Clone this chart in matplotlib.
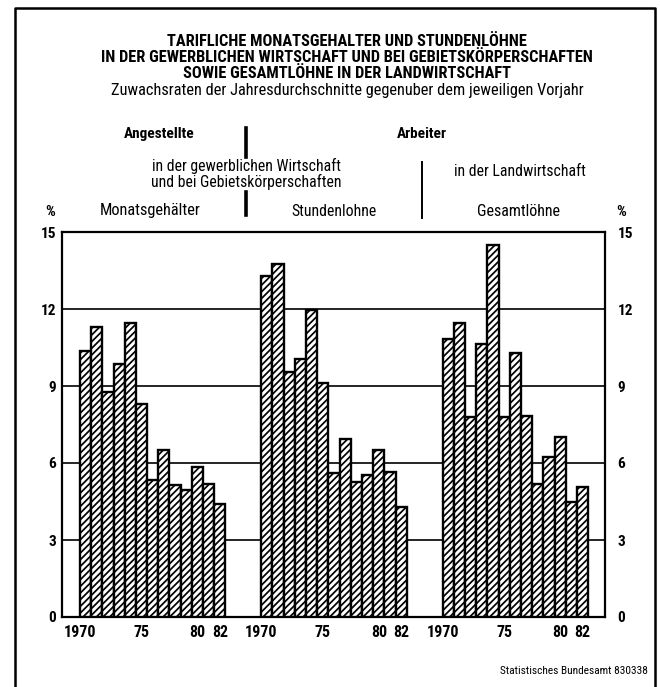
import matplotlib
matplotlib.use("Agg")
import matplotlib.pyplot as plt
from matplotlib.lines import Line2D
import numpy as np

# ---- data (growth rates, % vs previous year, 1970-1982) -------------
years = list(range(1970, 1983))
monatsgehaelter = [10.35, 11.3, 8.75, 9.85, 11.45, 8.3, 5.35, 6.5, 5.15, 4.95, 5.85, 5.2, 4.4]
stundenloehne = [13.3, 13.75, 9.55, 10.05, 11.95, 9.1, 5.6, 6.95, 5.25, 5.55, 6.5, 5.65, 4.3]
gesamtloehne = [10.85, 11.45, 7.8, 10.65, 14.5, 7.8, 10.3, 7.85, 5.2, 6.25, 7.0, 4.5, 5.05]
tick_years = [1970, 1975, 1980, 1982]
tick_text = ["1970", "75", "80", "82"]
yticks = [0, 3, 6, 9, 12, 15]

W, H = 660, 687
FONT = ["Roboto Condensed", "Liberation Sans", "DejaVu Sans"]
plt.rcParams.update({
    "font.family": FONT,
    "hatch.linewidth": 1.25,
    "axes.linewidth": 1.6,
})


def fx(x):
    return x / W


def fy(y):
    return 1 - y / H


fig = plt.figure(figsize=(W / 100, H / 100), dpi=100)
ax = fig.add_axes([fx(62), fy(617), fx(605) - fx(62), fy(232) - fy(617)])

group_start = [1.6, 17.8, 34.0]
series = [monatsgehaelter, stundenloehne, gesamtloehne]
xt, xl = [], []
for start, vals in zip(group_start, series):
    x = start + 0.5 + np.arange(len(years))
    ax.bar(x, vals, width=1.0, color="white", edgecolor="black",
           hatch="/////", lw=1.7, zorder=3)
    for ty, tt in zip(tick_years, tick_text):
        xi = start + 0.5 + years.index(ty)
        xt.append(xi - 0.5 if tt == "1970" else xi)
        xl.append(tt)

ax.set_xlim(0, 48.5)
ax.set_ylim(0, 15)
ax.set_yticks(yticks)
ax.set_yticklabels([str(v) for v in yticks])
ax.yaxis.grid(True, color="black", lw=1.2)
ax.set_axisbelow(True)
ax.set_xticks(xt)
ax.set_xticklabels(xl, fontweight="bold", fontsize=11.5)
ax.tick_params(axis="x", length=0, pad=6)
ax.tick_params(axis="y", length=0, pad=4, labelsize=11)
for lab in ax.get_yticklabels():
    lab.set_fontweight("bold")

ax2 = ax.twinx()
ax2.set_ylim(0, 15)
ax2.set_yticks(yticks)
ax2.set_yticklabels([str(v) for v in yticks], fontweight="bold")
ax2.tick_params(axis="y", length=0, pad=9, labelsize=11)
for s in ax2.spines.values():
    s.set_visible(False)

# ---- titles ----------------------------------------------------------
title = ["TARIFLICHE MONATSGEHALTER UND STUNDENLÖHNE",
         "IN DER GEWERBLICHEN WIRTSCHAFT UND BEI GEBIETSKÖRPERSCHAFTEN",
         "SOWIE GESAMTLÖHNE IN DER LANDWIRTSCHAFT"]
for i, line in enumerate(title):
    fig.text(fx(347), fy(42 + 16 * i), line, ha="center", va="center",
             fontsize=11.8, fontweight="bold")
fig.text(fx(347), fy(90), "Zuwachsraten der Jahresdurchschnitte gegenuber dem jeweiligen Vorjahr",
         ha="center", va="center", fontsize=11.8)

fig.text(fx(159), fy(134), "Angestellte", ha="center", va="center",
         fontsize=11, fontweight="bold")
fig.text(fx(422), fy(134), "Arbeiter", ha="center", va="center",
         fontsize=11, fontweight="bold")
fig.text(fx(246), fy(166), "in der gewerblichen Wirtschaft", ha="center",
         va="center", fontsize=11.3)
fig.text(fx(246), fy(182), "und bei Gebietskörperschaften", ha="center",
         va="center", fontsize=11.3)
fig.text(fx(520), fy(172), "in der Landwirtschaft", ha="center",
         va="center", fontsize=11.3)
fig.text(fx(150), fy(210), "Monatsgehälter", ha="center", va="center",
         fontsize=11.8)
fig.text(fx(334), fy(211), "Stundenlohne", ha="center", va="center",
         fontsize=11.3)
fig.text(fx(519), fy(212), "Gesamtlöhne", ha="center", va="center",
         fontsize=11.5)
fig.text(fx(50), fy(212), "%", ha="center", va="center",
         fontsize=11, fontweight="bold")
fig.text(fx(621), fy(212), "%", ha="center", va="center",
         fontsize=11, fontweight="bold")
fig.text(fx(648), fy(671), "Statistisches Bundesamt 830338", ha="right",
         va="center", fontsize=8.2)

# separator bars
for x0, y0, y1, lw in [(246, 128, 157, 2.6), (246, 192, 215, 2.6),
                       (422, 162, 218, 1.4)]:
    fig.add_artist(Line2D([fx(x0), fx(x0)], [fy(y0), fy(y1)],
                          color="black", lw=lw))

# outer frame
fig.add_artist(Line2D([fx(15), fx(15), fx(655), fx(655)],
                      [fy(687), fy(8), fy(8), fy(687)],
                      color="black", lw=1.8))

fig.savefig("out.png", dpi=100)
